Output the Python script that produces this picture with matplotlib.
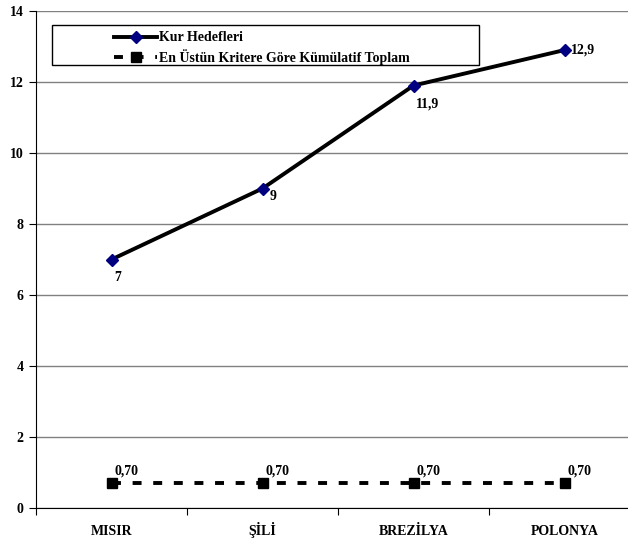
import matplotlib
matplotlib.use("Agg")
import matplotlib.pyplot as plt
from matplotlib.patches import Rectangle
import numpy as np

# data
countries = ['MISIR', 'ŞİLİ', 'BREZİLYA', 'POLONYA']
kur_hedefleri = [7, 9, 11.9, 12.9]
kur_labels = ['7', '9', '11,9', '12,9']
kumulatif = [0.70, 0.70, 0.70, 0.70]
kum_labels = ['0,70', '0,70', '0,70', '0,70']
yticks = [0, 2, 4, 6, 8, 10, 12, 14]

plt.rcParams['font.family'] = ['Liberation Serif', 'DejaVu Serif']
plt.rcParams['font.weight'] = 'bold'

W, H = 628, 543
fig = plt.figure(figsize=(W / 100, H / 100), dpi=100)
# axes spans x 36..640 px, y 11..508 px (right edge cut off by figure)
ax = fig.add_axes([36 / W, (H - 508) / H, (640 - 36) / W, (508 - 11) / H])

x = np.arange(len(countries)) + 0.5

ax.plot(x, kur_hedefleri, color='black', lw=2.8, marker='D', ms=6.5,
        mfc='#000080', mec='#000080', label='Kur Hedefleri', zorder=3)
ax.plot(x, kumulatif, color='black', lw=2.8, ls=(0, (2.3, 3.0)), marker='s', ms=7.5,
        mfc='black', mec='black', label='En Üstün Kritere Göre Kümülatif Toplam', zorder=3)

# data labels
offs = [(2, -13), (5, -6), (2, -13), (5, 0)]
for xi, yi, lab, (dx, dy) in zip(x, kur_hedefleri, kur_labels, offs):
    ax.annotate(lab, (xi, yi), xytext=(dx, dy), textcoords='offset points',
                fontsize=10, fontweight='bold', va='center', ha='left')
for xi, yi, lab in zip(x, kumulatif, kum_labels):
    ax.annotate(lab, (xi, yi), xytext=(2.5, 9), textcoords='offset points',
                fontsize=10, fontweight='bold', va='center', ha='left')

ax.set_xlim(0, 4)
ax.set_ylim(0, 14)
ax.set_yticks(yticks)
ax.set_yticklabels([str(t) for t in yticks], fontsize=10, fontweight='bold')
ax.set_xticks(np.arange(0, 5))
ax.set_xticklabels([])
# category names on a common baseline
for xi, name in zip(x, countries):
    ax.annotate(name, (xi, 0), xytext=(0, -27), textcoords='offset pixels',
                ha='center', va='baseline', fontsize=10, fontweight='bold',
                annotation_clip=False)
ax.tick_params(axis='x', which='major', length=5, direction='out', width=0.8)
ax.tick_params(axis='y', length=5, direction='out', width=0.8, pad=4)

ax.grid(axis='y', color='#808080', lw=1)
ax.set_axisbelow(True)
for s in ['top', 'right']:
    ax.spines[s].set_visible(False)
ax.spines['left'].set_color('black')
ax.spines['bottom'].set_color('black')

# legend frame drawn manually
fig.patches.append(Rectangle((52 / W, (H - 65) / H), (479 - 52) / W, 40 / H,
                             transform=fig.transFigure, fill=False,
                             ec='black', lw=1, zorder=5))
leg = fig.legend(loc='upper left', bbox_to_anchor=(104 / W, (H - 21) / H),
                 frameon=False, prop={'size': 10, 'weight': 'bold'},
                 handlelength=3.1, handletextpad=0.1, borderpad=0.25,
                 labelspacing=0.35, markerscale=0.9)

fig.savefig('out.png', dpi=100)
